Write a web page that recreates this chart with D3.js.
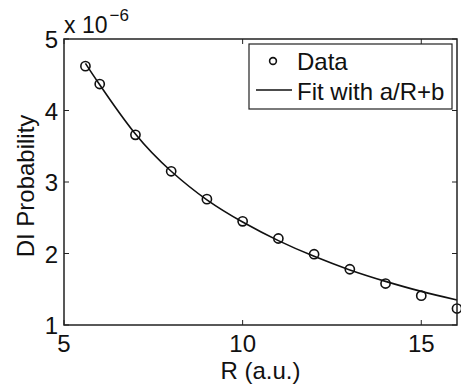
<!DOCTYPE html>
<html>
<head>
<meta charset="utf-8">
<script src="https://cdn.jsdelivr.net/npm/d3@7"></script>
<style>
  body { margin: 0; background: #fff; }
  text { font-family: "Liberation Sans", Arial, Helvetica, sans-serif; fill: #111; }
</style>
</head>
<body>
<script>
// data points (R in a.u., probability in units of 1e-6)
var rValues = [5.6, 6, 7, 8, 9, 10, 11, 12, 13, 14, 15, 16];
var probValues = [4.62, 4.37, 3.66, 3.15, 2.76, 2.45, 2.21, 1.99, 1.78, 1.58, 1.41, 1.23];
// fitted curve a/R+b at the same R
var fitR = [5.6, 6, 7, 8, 9, 10, 11, 12, 13, 14, 15, 16];
var fitValues = [4.66, 4.36, 3.67, 3.15, 2.75, 2.44, 2.18, 1.96, 1.77, 1.61, 1.47, 1.35];
var xTicks = [5, 10, 15];
var yTicks = [1, 2, 3, 4, 5];
var legendLabels = ["Data", "Fit with a/R+b"];

var w = 461, h = 388;
var margin = {top: 39, right: 4, bottom: 63, left: 64};
var width = w - margin.left - margin.right;
var height = h - margin.top - margin.bottom;

var x = d3.scaleLinear().domain([5, 16]).range([0, width]);
var y = d3.scaleLinear().domain([1, 5]).range([height, 0]);

var svg = d3.select('body').append('svg')
  .attr('width', w)
  .attr('height', h);

var chart = svg.append('g')
  .attr('transform', 'translate(' + margin.left + ',' + margin.top + ')');

// inner ticks on all four sides, MATLAB style
var tk = 5;
var ticks = chart.append('g').attr('stroke', '#222').attr('stroke-width', 1);
xTicks.forEach(function(t){
  ticks.append('line').attr('x1', x(t)).attr('x2', x(t)).attr('y1', height).attr('y2', height - tk);
  ticks.append('line').attr('x1', x(t)).attr('x2', x(t)).attr('y1', 0).attr('y2', tk);
});
yTicks.forEach(function(t){
  ticks.append('line').attr('x1', 0).attr('x2', tk).attr('y1', y(t)).attr('y2', y(t));
  ticks.append('line').attr('x1', width).attr('x2', width - tk).attr('y1', y(t)).attr('y2', y(t));
});

chart.selectAll('.xlab')
  .data(xTicks)
  .enter().append('text')
  .attr('x', function(d){ return x(d); })
  .attr('y', height + 27)
  .attr('text-anchor', 'middle')
  .style('font-size', '24px')
  .text(function(d){ return d; });

chart.selectAll('.ylab')
  .data(yTicks)
  .enter().append('text')
  .attr('x', -6)
  .attr('y', function(d){ return y(d) + 9; })
  .attr('text-anchor', 'end')
  .style('font-size', '24px')
  .text(function(d){ return d; });

// exponent label
var expo = chart.append('text')
  .attr('x', 0)
  .attr('y', -6)
  .style('font-size', '23px');
expo.append('tspan').text('x 10');
expo.append('tspan').attr('dx', 2).attr('dy', -12).style('font-size', '17px').text('\u22126');

chart.append('text')
  .attr('x', width / 2)
  .attr('y', height + 54)
  .attr('text-anchor', 'middle')
  .style('font-size', '24px')
  .text('R (a.u.)');

chart.append('text')
  .attr('transform', 'translate(' + (-30) + ',' + (height / 2 + 4) + ') rotate(-90)')
  .attr('text-anchor', 'middle')
  .style('font-size', '24px')
  .text('DI Probability');

// fit curve
var line = d3.line()
  .x(function(d, i){ return x(fitR[i]); })
  .y(function(d){ return y(d); })
  .curve(d3.curveNatural);

chart.append('path')
  .datum(fitValues)
  .attr('d', line)
  .attr('fill', 'none')
  .attr('stroke', '#111')
  .attr('stroke-width', 1.6);

chart.selectAll('.pt')
  .data(probValues)
  .enter().append('circle')
  .attr('cx', function(d, i){ return x(rValues[i]); })
  .attr('cy', function(d){ return y(d); })
  .attr('r', 4.6)
  .attr('fill', 'none')
  .attr('stroke', '#111')
  .attr('stroke-width', 1.6);

// axes box
chart.append('rect')
  .attr('x', 0).attr('y', 0)
  .attr('width', width).attr('height', height)
  .attr('fill', 'none')
  .attr('stroke', '#222')
  .attr('stroke-width', 1.5);

// legend
var lg = svg.append('g').attr('transform', 'translate(249,44)');
lg.append('rect')
  .attr('width', 203).attr('height', 65)
  .attr('fill', '#fff')
  .attr('stroke', '#222')
  .attr('stroke-width', 1.2);
lg.append('circle')
  .attr('cx', 24).attr('cy', 17).attr('r', 3.4)
  .attr('fill', 'none').attr('stroke', '#111').attr('stroke-width', 1.6);
lg.append('line')
  .attr('x1', 7).attr('x2', 43).attr('y1', 46).attr('y2', 46)
  .attr('stroke', '#111').attr('stroke-width', 1.6);
lg.selectAll('.lt')
  .data(legendLabels)
  .enter().append('text')
  .attr('x', 48)
  .attr('y', function(d, i){ return 26 + i * 30; })
  .style('font-size', '24px')
  .text(function(d){ return d; });
</script>
</body>
</html>
